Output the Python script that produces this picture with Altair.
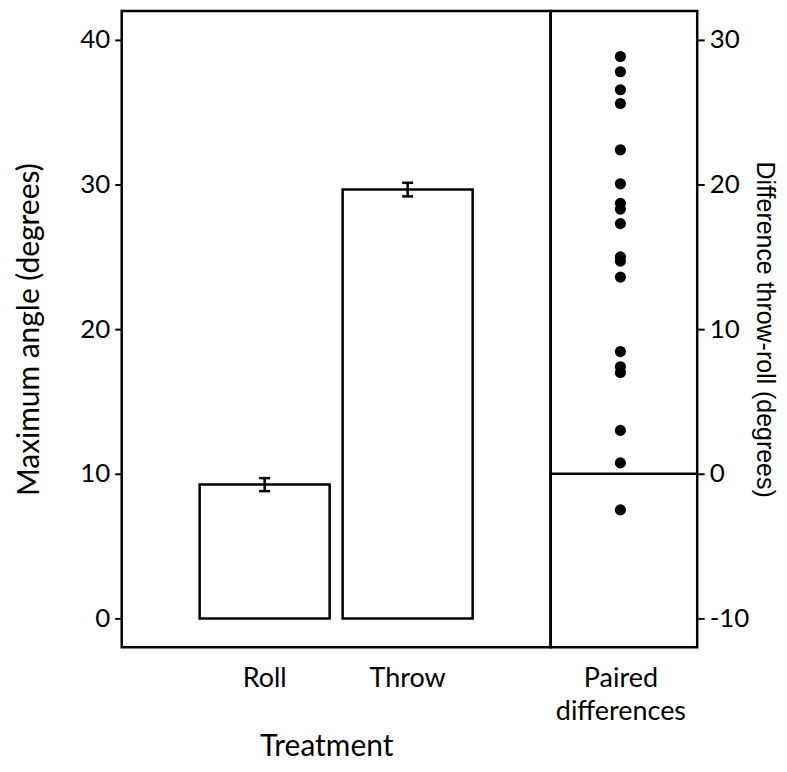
import altair as alt
import pandas as pd

# ---- data ----
treatments = ["Roll", "Throw"]
mean_angle = [9.25, 29.65]
se_angle = [0.45, 0.47]

paired_label = "Paired differences"
differences = [28.85, 27.8, 26.55, 25.6, 22.4, 20.05, 18.7, 18.3, 17.3,
               15.0, 14.7, 13.6, 8.45, 7.4, 7.0, 3.0, 0.75, -2.5]

left_ticks = [0, 10, 20, 30, 40]
right_ticks = [-10, 0, 10, 20, 30]

bars_df = pd.DataFrame({
    "Treatment": treatments,
    "mean": mean_angle,
    "lo": [m - s for m, s in zip(mean_angle, se_angle)],
    "hi": [m + s for m, s in zip(mean_angle, se_angle)],
})
diff_df = pd.DataFrame({"group": [paired_label] * len(differences), "diff": differences})
zero_df = pd.DataFrame({"level": [0]})

H = 638
W_LEFT = 430
W_RIGHT = 147

LABEL_SIZE = 27
TICK_LABEL_SIZE = 26

x_left = alt.X(
    "Treatment:N",
    sort=treatments,
    scale=alt.Scale(paddingInner=0.0909, paddingOuter=0.545),
    axis=alt.Axis(title="Treatment", labelAngle=0, ticks=False, domain=False,
                  labelFontSize=LABEL_SIZE, titleFontSize=30, labelPadding=18,
                  titlePadding=40, titleX=205),
)
y_left_scale = alt.Scale(domain=[-2, 42], nice=False, zero=False)
y_left_axis = alt.Axis(title="Maximum angle (degrees)", values=left_ticks, grid=False,
                       domain=False, tickSize=7, tickWidth=2, tickColor="black",
                       labelFontSize=TICK_LABEL_SIZE, titleFontSize=30,
                       labelPadding=5, titlePadding=35)

bars = alt.Chart(bars_df).mark_bar(fill="white", stroke="black", strokeWidth=2.5).encode(
    x=x_left,
    y=alt.Y("mean:Q", scale=y_left_scale, axis=y_left_axis),
    y2=alt.datum(0),
)
err = alt.Chart(bars_df).mark_rule(color="black", strokeWidth=2.5).encode(
    x=alt.X("Treatment:N", sort=treatments),
    y="lo:Q",
    y2="hi:Q",
)
cap_lo = alt.Chart(bars_df).mark_tick(color="black", size=11, thickness=2.5, opacity=1).encode(
    x=alt.X("Treatment:N", sort=treatments), y="lo:Q")
cap_hi = alt.Chart(bars_df).mark_tick(color="black", size=11, thickness=2.5, opacity=1).encode(
    x=alt.X("Treatment:N", sort=treatments), y="hi:Q")

left = alt.layer(bars, err, cap_lo, cap_hi).properties(width=W_LEFT, height=H)

x_right = alt.X(
    "group:N",
    scale=alt.Scale(range=[0, 140]),
    axis=alt.Axis(title=None, labelAngle=0, ticks=False, domain=False,
                  labelFontSize=LABEL_SIZE, labelPadding=18, labelLineHeight=33,
                  labelExpr="split(datum.label, ' ')"),
)
y_right_scale = alt.Scale(domain=[-12, 32], nice=False, zero=False)
y_right_axis = alt.Axis(orient="right", title="Difference throw-roll (degrees)",
                        values=right_ticks, grid=False, domain=False, tickSize=7,
                        tickWidth=2, tickColor="black", labelFontSize=TICK_LABEL_SIZE,
                        labelExpr="datum.value < 0 ? '-' + abs(datum.value) : '' + datum.value",
                        titleFont="Liberation Sans", titleFontSize=25,
                        labelPadding=5, titlePadding=3)

dots = alt.Chart(diff_df).mark_circle(color="black", opacity=1, size=125).encode(
    x=x_right,
    y=alt.Y("diff:Q", scale=y_right_scale, axis=y_right_axis),
)
zero_line = alt.Chart(zero_df).mark_rule(color="black", strokeWidth=2.5).encode(
    y=alt.Y("level:Q"),
)
right = alt.layer(dots, zero_line).properties(width=W_RIGHT, height=H)

chart = alt.hconcat(left, right, spacing=0, bounds="flush").properties(
    padding={"left": 5, "top": 0, "right": 0, "bottom": 0}
).configure_view(
    stroke="black", strokeWidth=2.5
).configure_axis(
    labelFont="Lato", titleFont="Lato", labelColor="black", titleColor="black",
    titleFontWeight="normal",
)

chart.save("out.html", embed_options={"renderer": "svg", "actions": False})
